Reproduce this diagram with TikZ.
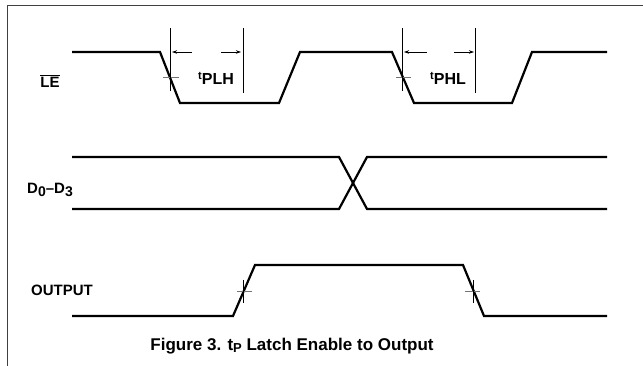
\documentclass[tikz,border=0pt]{standalone}
\usepackage{fontspec}
\setmainfont{Liberation Sans}
\usetikzlibrary{arrows.meta}
\begin{document}
\begin{tikzpicture}[x=1pt,y=-1pt,
	signal/.style={line width=2.2pt},
	tick/.style={black!55, line width=0.8pt},
	refline/.style={line width=0.7pt},
	dim/.style={-{Stealth[length=5pt,width=3.5pt]}, line width=0.7pt},
	lbl/.style={font=\bfseries\fontsize{15}{15}\selectfont, inner sep=0pt}]
	\useasboundingbox (0,0) rectangle (643,366);
	\draw[line width=1pt, black!75] (7,366) -- (7,6) -- (643,6);
	% LE
	\draw[signal] (72,52) -- (160,52) -- (180,103) -- (279,103) -- (300,52) -- (392,52) -- (414,103) -- (512,103) -- (532,52) -- (607,52);
	\draw[tick] (163,77) -- (179,77);
	\draw[tick] (396,77) -- (411,77);
	\draw[refline] (170,28) -- (170,91);
	\draw[refline] (243,28) -- (243,93);
	\draw[refline] (402,28) -- (402,91);
	\draw[refline] (475,28) -- (475,93);
	\coordinate (plhL) at (172,52);
	\coordinate (plhR) at (241,52);
	\coordinate (phlL) at (404,52);
	\coordinate (phlR) at (474,52);
	\draw[dim] (192,52) -- (plhL);
	\draw[dim] (221,52) -- (plhR);
	\draw[dim] (427,52) -- (phlL);
	\draw[dim] (454,52) -- (phlR);
	\node[lbl] (le) at (50,81) {$\overline{\mbox{LE}}$};
	\node[lbl, font=\bfseries\fontsize{16}{16}\selectfont] (tplh) at (216,78) {\raisebox{5pt}{\fontsize{11}{11}\selectfont t}PLH};
	\node[lbl, font=\bfseries\fontsize{16}{16}\selectfont] (tphl) at (448,78) {\raisebox{5pt}{\fontsize{11}{11}\selectfont t}PHL};
	% D0-D3
	\draw[signal] (72,157) -- (339,157) -- (367,209) -- (607,209);
	\draw[signal] (72,209) -- (339,209) -- (367,157) -- (607,157);
	\node[lbl] (data) at (50,190) {D\raisebox{-3pt}{\fontsize{14}{14}\selectfont 0}–D\raisebox{-3pt}{\fontsize{14}{14}\selectfont 3}};
	% OUTPUT
	\draw[signal] (72,316) -- (233,316) -- (255,265) -- (463,265) -- (484,316) -- (607,316);
	\draw[tick] (237,291) -- (252,291);
	\draw[tick] (465,291) -- (480,291);
	\draw[refline] (243,280) -- (243,303);
	\draw[refline] (473,280) -- (473,303);
	\node[lbl] (out) at (62,290) {OUTPUT};
	% caption
	\node[font=\bfseries\fontsize{17}{17}\selectfont, inner sep=0pt] (cap) at (292,346) {Figure 3. t\raisebox{-2.5pt}{\fontsize{13}{13}\selectfont P} Latch Enable to Output};
\end{tikzpicture}
\end{document}
